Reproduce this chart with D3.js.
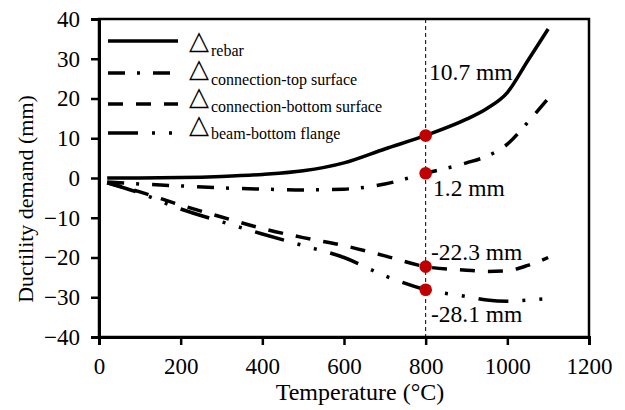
<!DOCTYPE html>
<html><head><meta charset="utf-8">
<script src="https://cdn.jsdelivr.net/npm/d3@7"></script>
<style>body{margin:0;background:#fff}svg{display:block}</style>
</head><body>
<svg id="c" width="625" height="410"></svg>
<script>
const temps = [20,100,200,300,400,500,600,700,800,900,950,1000,1050,1100];
const rebar = [0,0,0.1,0.4,0.9,1.8,3.8,7.3,10.7,14.8,17.5,21.5,29.5,37.5];
const connTop = [-1,-1.5,-2,-2.5,-2.8,-3.0,-2.8,-1.5,1.2,3.8,5.5,8.5,14,20];
const connBottom = [-1.2,-3.5,-6.8,-9.8,-12.7,-15,-17,-19.6,-22.3,-23.2,-23.5,-23.3,-22,-20];
const beamBottom = [-1.2,-3.8,-7.8,-11,-14.1,-17,-20,-24.6,-28.1,-29.8,-30.7,-31,-30.7,-30.3];
const seriesNames = ["rebar","connection-top surface","connection-bottom surface","beam-bottom flange"];
const xTicks = [0,200,400,600,800,1000,1200];
const yTicks = [-40,-30,-20,-10,0,10,20,30,40];
const markTemp = 800;
const markLabels = ["10.7 mm","1.2 mm","-22.3 mm","-28.1 mm"];
const markValues = [10.7,1.2,-22.3,-28.1];

const SERIF = "font-family:'Liberation Serif','Times New Roman',serif;";
const svg = d3.select("#c");
const L=99,R=589,T=19,B=337;
const x = d3.scaleLinear().domain([0,1200]).range([L,R]);
const y = d3.scaleLinear().domain([-40,40]).range([B,T]);

// frame
svg.append("rect").attr("x",L).attr("y",T).attr("width",R-L).attr("height",B-T)
  .attr("fill","none").attr("stroke","#000").attr("stroke-width",2.5);

const xa = svg.append("g").attr("transform",`translate(0,${B})`)
  .call(d3.axisBottom(x).tickValues(xTicks).tickSize(8).tickPadding(12).tickFormat(d3.format("d")));
const ya = svg.append("g").attr("transform",`translate(${L},0)`)
  .call(d3.axisLeft(y).tickValues(yTicks).tickSize(8).tickPadding(11).tickFormat(d3.format("d")));
[xa,ya].forEach(g=>{
  g.select(".domain").attr("stroke","#000").attr("stroke-width",3);
  g.selectAll(".tick line").attr("stroke","#000").attr("stroke-width",2.5);
  g.selectAll(".tick text").attr("style",SERIF+"font-size:23px;fill:#000");
});
xa.selectAll(".tick text").attr("dy","0.72em");

svg.append("text").attr("x",360).attr("y",400).attr("text-anchor","middle")
  .attr("style",SERIF+"font-size:24px").text("Temperature (°C)");
svg.append("text").attr("transform","translate(33,199) rotate(-90)").attr("text-anchor","middle")
  .attr("style",SERIF+"font-size:22px").text("Ductility demand (mm)");

// vertical dashed line
svg.append("line").attr("x1",x(markTemp)).attr("x2",x(markTemp)).attr("y1",T).attr("y2",B)
  .attr("stroke","#000").attr("stroke-width",1).attr("stroke-dasharray","4,3");

const dashes = [null,"17,12,3,13","15,13","30,14,3,14,3,14"];
const data = [rebar,connTop,connBottom,beamBottom];
const line = d3.line().x((d,i)=>x(temps[i])).y(d=>y(d)).curve(d3.curveMonotoneX);
data.forEach((s,k)=>{
  svg.append("path").datum(s).attr("d",line).attr("fill","none").attr("stroke","#000")
    .attr("stroke-width",3.5).attr("stroke-dasharray",dashes[k]);
});

// markers
markValues.forEach(v=>{
  svg.append("circle").attr("cx",x(markTemp)).attr("cy",y(v)).attr("r",6.3).attr("fill","#c00000");
});
const labelPos = [[429,80],[433,196],[431,260],[431,322]];
markLabels.forEach((t,i)=>{
  svg.append("text").attr("x",labelPos[i][0]).attr("y",labelPos[i][1])
    .attr("style",SERIF+"font-size:23.5px").text(t);
});

// legend
const legY = [41,73,104,133];
const triBase = [49,77,105,132.5];
const legBase = [56,85,112,139];
seriesNames.forEach((n,i)=>{
  svg.append("line").attr("x1",108).attr("x2",178).attr("y1",legY[i]).attr("y2",legY[i])
    .attr("stroke","#000").attr("stroke-width",3.5).attr("stroke-dasharray",dashes[i]);
  const t = svg.append("text").attr("x",189).attr("y",triBase[i]).attr("style",SERIF);
  t.append("tspan").attr("style","font-family:'DejaVu Sans';font-size:26px").text("△");
  t.append("tspan").attr("x",211).attr("y",legBase[i]).attr("style",SERIF+"font-size:16px").text(n);
});
</script>
</body></html>
